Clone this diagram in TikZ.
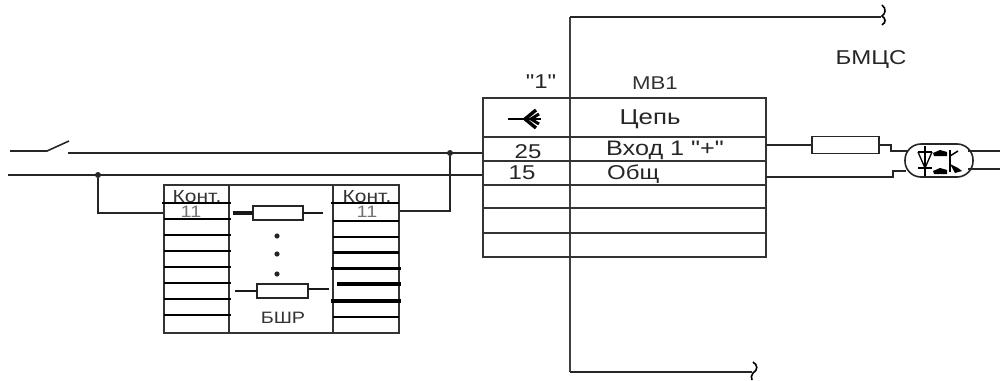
\documentclass[tikz,border=0pt]{standalone}
\usepackage{fontspec}
\setmainfont[Ligatures=TeXOff,FakeStretch=1.2]{Liberation Sans}
\usetikzlibrary{calc}
\tikzset{
	wire/.style={line width=1.6pt, color=black!85},
	grid/.style={line width=1.7pt, color=black!80},
	thickwire/.style={line width=2.6pt, color=black!90},
	res/.style={draw, line width=1.6pt, color=black!85, fill=white, inner sep=0pt, outer sep=0pt},
	junct/.style={circle, fill=black!85, inner sep=0pt, minimum size=6pt},
	lbl/.style={inner sep=0pt, color=black!85, font=\fontsize{20}{22}\selectfont},
	lblsmall/.style={inner sep=0pt, color=black!80, font=\fontsize{17.5}{19}\selectfont}
}

\begin{document}
\begin{tikzpicture}[x=1pt, y=-1pt]
		%%%%% START %%%%%
		\useasboundingbox (0, 0) rectangle (1000, 380);
		
		% incoming lines
		\coordinate (swa) at (10, 151);
		\coordinate (swb) at (47, 151);
		\coordinate (swc) at (69, 141);
		\coordinate (plusa) at (68, 153);
		\coordinate (plusb) at (484, 153);
		\coordinate (coma) at (8, 175);
		\coordinate (comb) at (484, 175);
		\draw[wire] (swa) -- (swb) -- (swc);
		\draw[wire] (plusa) -- (plusb);
		\draw[wire] (coma) -- (comb);
		
		\node[junct] (jleft) at (98, 175) {};
		\node[junct] (jright) at (450, 153) {};
		\coordinate (bsin) at (164, 213);
		\coordinate (bsout) at (399, 211);
		\draw[wire] (jleft) |- (bsin);
		\draw[wire] (bsout) -| (jright);
		
		% block BShR
		\draw[grid] (164, 185) rectangle (399, 333);
		\draw[grid] (229, 185) -- (229, 333);
		\draw[grid] (333, 185) -- (333, 333);
		
		\draw[line width=2pt] (162, 203) -- (231, 203);
		\draw[line width=2pt] (164, 219) -- (231, 219);
		\draw[line width=2pt] (164, 235) -- (231, 235);
		\draw[line width=2pt] (164, 251) -- (231, 251);
		\draw[line width=2pt] (164, 267) -- (231, 267);
		\draw[line width=2pt] (164, 283) -- (231, 283);
		\draw[line width=2pt] (164, 299) -- (231, 299);
		\draw[line width=2pt] (164, 315) -- (231, 315);
		
		\draw[line width=2pt] (331, 203) -- (399, 203);
		\draw[line width=2pt] (333, 221) -- (399, 221);
		\draw[line width=2pt] (333, 237) -- (399, 237);
		\draw[line width=3pt] (333, 252) -- (399, 252);
		\draw[line width=3pt] (331, 268) -- (401, 268);
		\draw[line width=3.4pt] (337, 284) -- (401, 284);
		\draw[line width=3.4pt] (331, 301) -- (401, 301);
		\draw[line width=2.2pt] (333, 317) -- (399, 317);
		
		\node[lblsmall] (kontl) at (197, 196.5) {Конт.};
		\node[lblsmall] (kontr) at (367, 196.5) {Конт.};
		\node[lblsmall, color=black!55, font=\fontsize{16.5}{18}\selectfont] (numl) at (191, 212) {11};
		\node[lblsmall, color=black!55, font=\fontsize{16.5}{18}\selectfont] (numr) at (367, 212) {11};
		\node[lblsmall, font=\fontsize{16.5}{18}\selectfont] (bshr) at (283, 318) {БШР};
		
		\node[res, minimum width=50pt, minimum height=14pt] (resa) at (278, 213) {};
		\node[res, minimum width=51pt, minimum height=14pt] (resb) at (282.5, 291) {};
		\coordinate (resaw) at (233, 213);
		\coordinate (resae) at (323, 213);
		\coordinate (resbw) at (235, 291);
		\coordinate (resbe) at (329, 289);
		\draw[thickwire, line width=3.4pt] (resaw) -- (resa.west);
		\draw[thickwire] (resa.east) -- (resae);
		\draw[thickwire, line width=2pt] (resbw) -- (resb.west);
		\draw[thickwire, line width=2pt] (resb.east |- resbe) -- (resbe);
		
		\fill[black!85] (277, 236) circle (2.6);
		\fill[black!85] (277, 254) circle (2.6);
		\fill[black!85] (277, 274) circle (2.6);
		
		% table MV1
		\coordinate (mvtop) at (570, 17);
		\coordinate (mvbot) at (570, 372);
		\coordinate (brktop) at (881, 17);
		\coordinate (brkbot) at (752, 372);
		\draw[line width=2pt, color=black!75] (mvtop) -- (mvbot);
		\draw[wire, line width=1.8pt] (brktop) -- (mvtop);
		\draw[wire, line width=1.8pt] (mvbot) -- (brkbot);
		\draw[line width=1.6pt] (882, 5) .. controls (887, 9) and (885, 14) .. (882, 16) .. controls (885, 18) and (887, 22) .. (882, 25);
		\draw[line width=1.6pt] (753, 362) .. controls (758, 365) and (758, 370) .. (753, 373) .. controls (751, 375) and (751, 378) .. (752, 380);
		
		\draw[grid] (483, 98) rectangle (766, 257);
		\draw[grid] (483, 137) -- (766, 137);
		\draw[grid] (483, 161) -- (766, 161);
		\draw[grid] (483, 185) -- (766, 185);
		\draw[grid] (483, 208) -- (766, 208);
		\draw[grid] (483, 233) -- (766, 233);
		
		\node[lbl] (one) at (541, 82) {"1"};
		\node[lblsmall, font=\fontsize{18.5}{20}\selectfont] (mvname) at (655, 83) {МВ1};
		\node[lbl, font=\fontsize{21.5}{23}\selectfont] (chain) at (650, 119) {Цепь};
		\node[lbl] (pin25) at (528, 152) {25};
		\node[lbl] (pin15) at (522, 172.5) {15};
		\node[lbl, anchor=west, font=\fontsize{21}{23}\selectfont] (input) at (606, 150) {Вход 1 "+"};
		\node[lbl, anchor=west] (common) at (607, 174) {Общ};
		
		% connector sign
		\draw[line width=2pt] (508, 119) -- (541, 119);
		\draw[line width=3.4pt] (536, 110) -- (525, 119) -- (536, 128);
		\draw[line width=3pt] (539, 114) -- (531, 119) -- (539, 124);
		
		\node[lbl] (bmcs) at (871, 60) {БМЦС};
		
		% output side
		\node[draw, line width=1.6pt, color=black!85, rounded corners=16pt, inner sep=0pt, minimum width=68pt, minimum height=33pt] (opto) at (939, 160.5) {};
		\node[res, minimum width=67pt, minimum height=17pt] (resout) at (845.5, 145) {};
		\coordinate (outa) at (766, 145);
		\coordinate (outb) at (766, 177);
		\coordinate (outc) at (893, 177);
		\coordinate (outd) at (893, 171);
		\coordinate (oute) at (891, 145);
		\coordinate (outf) at (891, 151);
		\coordinate (optoc) at (908, 151);
		\coordinate (optod) at (906, 171);
		\draw[wire] (outa) -- (resout.west);
		\draw[wire] (resout.east) -- (oute) -- (outf) -- (optoc);
		\draw[wire] (outb) -- (outc) -- (outd) -- (optod);
		
		\coordinate (optoa) at (1000, 151);
		\coordinate (optob) at (1000, 169);
		\coordinate (optoe) at (968, 151);
		\coordinate (optof) at (968, 169);
		\draw[wire] (optoe) -- (optoa);
		\draw[wire] (optof) -- (optob);
		
		% inside of the opto cell
		\draw[line width=1.3pt] (918, 152) -- (932, 152);
		\draw[line width=1.3pt] (918, 152) -- (925, 168) -- (932, 152);
		\draw[line width=1.3pt] (918, 168) -- (932, 168);
		\draw[line width=1.3pt] (925, 146) -- (925, 176);
		\fill (933, 153) -- (940, 150) -- (947, 152) -- (947, 156) -- (934, 156) -- cycle;
		\fill (933, 171) -- (940, 168) -- (947, 170) -- (947, 174) -- (934, 174) -- cycle;
		\draw[line width=1.3pt] (950, 150) -- (950, 172);
		\draw[line width=1.5pt] (950, 156) -- (958, 151);
		\fill (950, 164) -- (958, 168) -- (962, 171) -- (955, 173) -- cycle;
		
		%%%%% END %%%%%
	\end{tikzpicture}
\end{document}
